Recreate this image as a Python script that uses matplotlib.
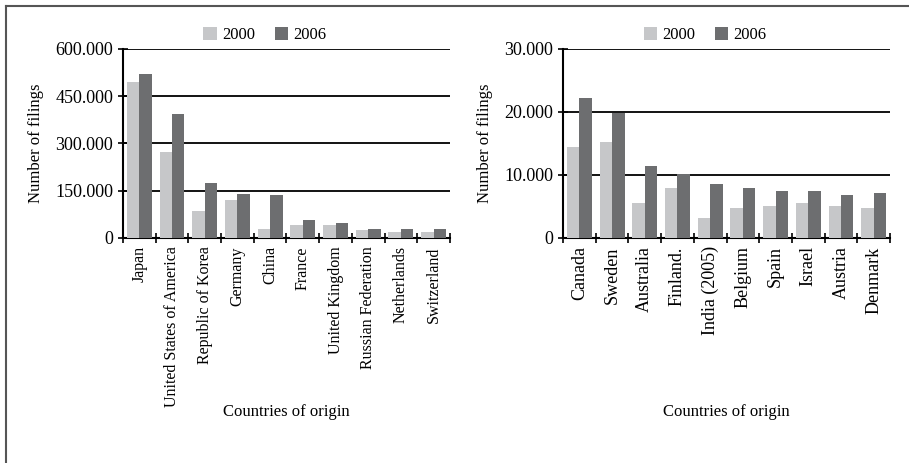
import matplotlib
matplotlib.use("Agg")
import matplotlib.pyplot as plt
from matplotlib.ticker import FuncFormatter, FixedLocator
from matplotlib.lines import Line2D
import numpy as np

plt.rcParams['font.family'] = ['Liberation Serif', 'DejaVu Serif']

# left chart: top 10 countries
countries_a = ['Japan', 'United States of America', 'Republic of Korea', 'Germany', 'China',
               'France', 'United Kingdom', 'Russian Federation', 'Netherlands', 'Switzerland']
y2000_a = [496000, 274000, 87000, 119000, 27000, 40000, 40000, 24000, 18000, 18000]
y2006_a = [521000, 394000, 176000, 140000, 138000, 56000, 49000, 30000, 30000, 30000]

# right chart: next 10 countries
countries_b = ['Canada', 'Sweden', 'Australia', 'Finland.', 'India (2005)',
               'Belgium', 'Spain', 'Israel', 'Austria', 'Denmark']
y2000_b = [14400, 15200, 5500, 7900, 3100, 4800, 5100, 5500, 5100, 4800]
y2006_b = [22200, 19800, 11500, 10200, 8500, 7900, 7500, 7400, 6900, 7100]

c2000 = '#c6c7c9'
c2006 = '#6d6e70'


def dot_fmt(v, pos):
    return '{:,.0f}'.format(v).replace(',', '.')


def draw(ax, cats, a, b, ymax, step, lab_size, ylab_x):
    x = np.arange(len(cats))
    w = 0.38
    ax.bar(x - w / 2, a, w, color=c2000, label='2000', zorder=3)
    ax.bar(x + w / 2, b, w, color=c2006, label='2006', zorder=3)
    ax.set_xlim(-0.5, len(cats) - 0.5)
    ax.set_ylim(0, ymax)
    ax.set_yticks(np.arange(0, ymax + 1, step))
    ax.yaxis.set_major_formatter(FuncFormatter(dot_fmt))
    ax.grid(axis='y', color='black', linewidth=1.3, zorder=0)
    ax.set_xticks(x)
    ax.set_xticklabels(cats, rotation=90, fontsize=lab_size)
    ax.xaxis.set_minor_locator(FixedLocator(np.arange(-0.5, len(cats), 1.0)))
    ax.tick_params(axis='x', which='major', length=0, pad=6)
    ax.tick_params(axis='x', which='minor', length=7, direction='inout', width=1.2)
    ax.tick_params(axis='y', length=7, direction='inout', width=1.2, labelsize=13)
    for s in ['top', 'right']:
        ax.spines[s].set_visible(False)
    ax.spines['left'].set_linewidth(1.5)
    ax.spines['bottom'].set_linewidth(1.5)
    ax.set_ylabel('Number of filings', fontsize=12)
    ax.yaxis.set_label_coords(ylab_x, 0.5)
    ax.set_xlabel('Countries of origin', fontsize=12)
    ax.xaxis.set_label_coords(0.5, -0.88)
    ax.legend(loc='center', bbox_to_anchor=(0.434, 1.074), ncol=2, frameon=False,
              fontsize=12, handlelength=0.8, handleheight=0.8, handletextpad=0.3,
              columnspacing=1.2, borderaxespad=0)


fig = plt.figure(figsize=(9.09, 4.63), dpi=100)
ax1 = fig.add_axes([0.1353, 0.486, 0.3597, 0.4082])
ax2 = fig.add_axes([0.6194, 0.486, 0.3597, 0.4082])

draw(ax1, countries_a, y2000_a, y2006_a, 600000, 150000, 11.5, -0.243)
draw(ax2, countries_b, y2000_b, y2006_b, 30000, 10000, 13, -0.213)

# frame lines on left and top of the picture
fig.add_artist(Line2D([5.5 / 909, 5.5 / 909], [0, 1 - 5.5 / 463], color='#555555', lw=1.5))
fig.add_artist(Line2D([5.5 / 909, 1], [1 - 5.5 / 463, 1 - 5.5 / 463], color='#555555', lw=1.5))

fig.savefig('out.png', dpi=100)
